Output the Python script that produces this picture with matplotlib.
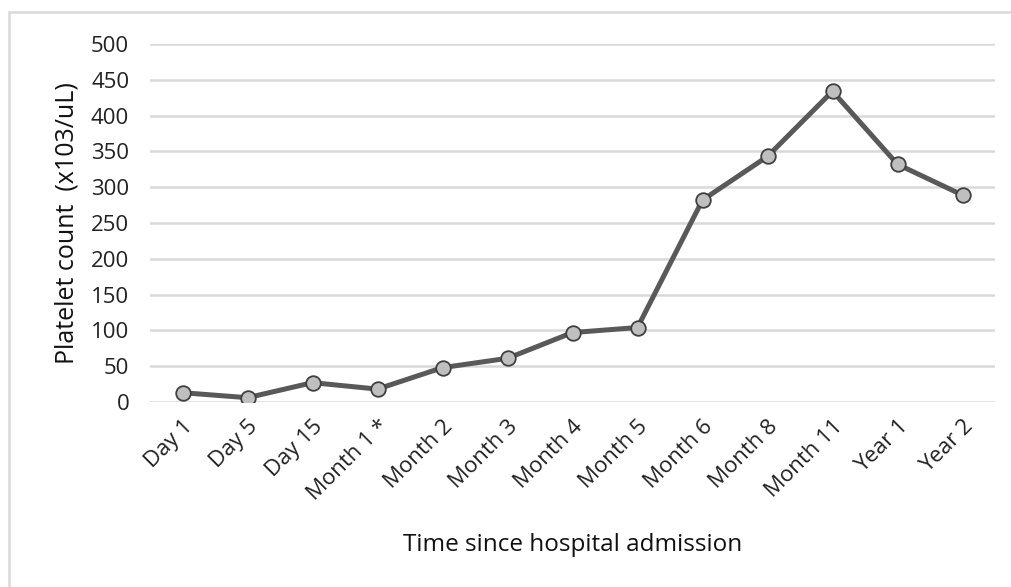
import matplotlib.pyplot as plt
from matplotlib.patches import Rectangle

# Platelet count over time since hospital admission
time_points = ['Day 1', 'Day 5', 'Day 15', 'Month 1 *', 'Month 2', 'Month 3',
               'Month 4', 'Month 5', 'Month 6', 'Month 8', 'Month 11', 'Year 1', 'Year 2']
platelets = [13, 6, 27, 18, 48, 61, 97, 104, 282, 343, 434, 332, 289]
y_ticks = [0, 50, 100, 150, 200, 250, 300, 350, 400, 450, 500]

plt.rcParams['font.family'] = ['Open Sans', 'DejaVu Sans']

W, H = 1011, 587
fig = plt.figure(figsize=(W / 100, H / 100), dpi=100)
ax = fig.add_axes([150 / W, 1 - 402 / H, 845 / W, 358 / H])

x = range(len(time_points))
ax.plot(x, platelets, color='#595959', linewidth=3.6, marker='o', markersize=10.5,
        markerfacecolor='#BFBFBF', markeredgecolor='#404040', markeredgewidth=1.3,
        zorder=3)

ax.set_xlim(-0.5, len(time_points) - 0.5)
ax.set_ylim(0, 500)
ax.set_yticks(y_ticks)
ax.set_xticks(list(x))
ax.set_xticklabels(time_points, rotation=45, ha='right', rotation_mode='anchor')
ax.tick_params(axis='both', length=0, labelsize=16, colors='#222222')
ax.tick_params(axis='y', pad=15)
ax.tick_params(axis='x', pad=10)

ax.grid(axis='y', color='#D9D9D9', linewidth=1.8)
ax.set_axisbelow(True)
for s in ax.spines.values():
    s.set_visible(False)

ax.set_ylabel('Platelet count  (x103/uL)', fontsize=18, color='#111111', labelpad=8)
fig.text(573 / W, 1 - 545 / H, 'Time since hospital admission', fontsize=17.5,
         color='#111111', ha='center', va='center')

# outer frame around the chart
fig.patches.append(Rectangle((9 / W, -0.1), 1.2, 1 - 12 / H + 0.1,
                             transform=fig.transFigure, fill=False,
                             edgecolor='#D9D9D9', linewidth=1.8))

fig.savefig('out.png', dpi=100)
